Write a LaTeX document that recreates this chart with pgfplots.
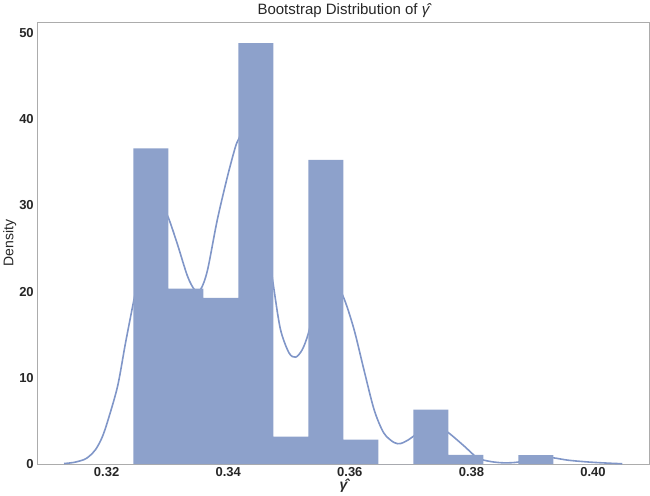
\documentclass[border=0pt]{standalone}
\usepackage{pgfplots}
\pgfplotsset{compat=1.18}
\usepackage{fontspec}
\setmainfont{Liberation Sans}
\definecolor{histblue}{RGB}{141,161,203}
\definecolor{kdeblue}{RGB}{128,150,200}
\definecolor{txtgray}{RGB}{38,38,38}

\begin{document}
\begin{tikzpicture}
\begin{axis}[scale only axis, width=612pt, height=442pt,
  xmin=0.3086, xmax=0.4093, ymin=0, ymax=51.26,
  axis line style={gray!65, line width=0.8pt},
  major tick length=0pt,
  xtick={0.32,0.34,0.36,0.38,0.40}, ytick={0,10,20,30,40,50},
  scaled x ticks=false,
  xticklabel style={/pgf/number format/fixed, /pgf/number format/fixed zerofill, /pgf/number format/precision=2},
  /pgf/number format/assume math mode=true,
  tick label style={font=\bfseries\fontsize{13}{13}\selectfont, text=txtgray},
  title={Bootstrap Distribution of {\itshape γ̂}},
  title style={font=\fontsize{15}{15}\selectfont, text=txtgray, yshift=-5pt},
  xlabel={\bfseries\itshape γ̂}, ylabel={Density},
  label style={font=\fontsize{14}{14}\selectfont, text=txtgray},
  xlabel style={yshift=5pt}, ylabel style={yshift=-4pt}]
% kde line, drawn under the bars
\addplot[kdeblue, line width=1.6pt, smooth] coordinates {
  (0.3130,0.07) (0.3146,0.2) (0.3163,0.53) (0.3172,0.95) (0.3182,1.7)
  (0.3192,3.0) (0.3201,4.8) (0.3218,9.0) (0.3231,14.0) (0.3244,18.7)
  (0.3258,23.5) (0.3272,27.5) (0.3285,29.3) (0.3295,29.3) (0.3302,28.5)
  (0.3316,25.6) (0.3333,21.8) (0.3345,20.2) (0.3355,20.3) (0.3366,22.5)
  (0.3382,28.3) (0.3399,33.4) (0.3412,36.8) (0.3418,37.8) (0.3428,39.3)
  (0.3440,38.5) (0.3455,32.0) (0.3465,25.5) (0.3475,20.4) (0.3486,15.6)
  (0.3500,12.9) (0.3511,12.4) (0.3522,13.3) (0.3532,15.2) (0.3545,19.0)
  (0.3560,21.5) (0.3575,21.3) (0.3591,19.1) (0.3607,15.6) (0.3623,11.0)
  (0.3640,6.3) (0.3656,3.6) (0.3673,2.5) (0.3684,2.4) (0.3697,2.85)
  (0.3705,3.25) (0.3720,4.2) (0.3735,4.4) (0.3750,4.1) (0.3763,3.6)
  (0.3788,2.1) (0.3810,0.73) (0.3832,0.3) (0.3854,0.15) (0.3876,0.23)
  (0.3900,0.6) (0.3918,0.8) (0.3935,0.73) (0.3960,0.45) (0.3996,0.23)
  (0.4030,0.1) (0.4048,0.05)};
% histogram (density)
\addplot[ybar interval, fill=histblue, draw=none] coordinates {
  (0.32439,36.6) (0.33015,20.35) (0.33591,19.27) (0.34166,48.8)
  (0.34742,3.2) (0.35318,35.26) (0.35893,2.85) (0.36469,0)
  (0.37045,6.33) (0.37621,1.08) (0.38196,0) (0.38772,1.06) (0.39348,1.06)};
\end{axis}
\end{tikzpicture}
\end{document}
